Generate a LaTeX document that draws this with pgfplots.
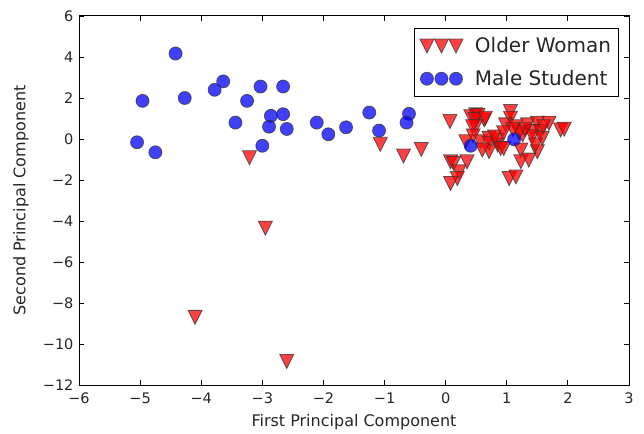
\documentclass[border=0pt]{standalone}
\usepackage{fontspec}
\setmainfont{DejaVu Sans}
\usepackage{pgfplots}
\pgfplotsset{compat=1.18}

% matplotlib style downward triangle (width = height = 2*mark size)
\pgfdeclareplotmark{tridown}{%
  \pgfpathmoveto{\pgfqpoint{0pt}{-\pgfplotmarksize}}%
  \pgfpathlineto{\pgfqpoint{\pgfplotmarksize}{\pgfplotmarksize}}%
  \pgfpathlineto{\pgfqpoint{-\pgfplotmarksize}{\pgfplotmarksize}}%
  \pgfpathclose
  \pgfusepathqfillstroke
}

\pgfplotstableread{
x y
-3.21 -0.91
-2.95 -4.35
-4.10 -8.70
-2.60 -10.85
-1.07 -0.26
-0.69 -0.83
-0.40 -0.51
0.07 0.85
0.41 1.09
0.49 1.18
0.53 1.15
0.63 0.93
0.48 0.95
0.65 1.01
0.49 0.60
0.44 0.60
0.33 -0.13
0.45 0.15
0.57 -0.13
0.71 0.03
0.71 -0.21
0.71 -0.62
0.60 -0.54
0.85 -0.29
0.85 -0.05
0.90 -0.46
0.80 0.10
0.35 -1.11
0.08 -1.11
0.13 -1.19
0.22 -1.60
0.19 -1.93
0.08 -2.17
1.04 -1.93
1.15 -1.85
1.06 1.34
1.06 1.01
0.98 0.69
1.15 0.60
1.34 0.69
1.50 0.77
1.69 0.77
1.42 0.36
1.55 0.36
1.26 0.20
1.42 0.11
1.58 0.03
0.95 -0.46
1.23 -0.54
1.50 -0.62
1.47 -0.29
1.23 -1.11
1.36 -1.03
1.88 0.44
1.94 0.48
1.60 0.60
1.30 0.45
1.20 0.30
1.10 0.45
0.95 0.30
}\older

\pgfplotstableread{
x y
-4.42 4.17
-4.96 1.86
-4.27 2.00
-5.05 -0.16
-4.75 -0.65
-3.78 2.40
-3.64 2.81
-3.25 1.86
-3.44 0.80
-3.03 2.56
-2.66 2.56
-2.86 1.13
-2.89 0.60
-2.66 1.21
-2.60 0.49
-3.00 -0.33
-2.11 0.80
-1.92 0.23
-1.63 0.57
-1.25 1.29
-1.09 0.41
-0.60 1.23
-0.64 0.80
0.41 -0.33
1.12 -0.02
}\male

\begin{document}
\begin{tikzpicture}
\begin{axis}[
  name=ax,
  scale only axis, width=550pt, height=369pt,
  xmin=-6, xmax=3, ymin=-12, ymax=6,
  xtick={-6,-5,...,3},
  xticklabels={−6,−5,−4,−3,−2,−1,0,1,2,3},
  ytick={-12,-10,...,6},
  yticklabels={−12,−10,−8,−6,−4,−2,0,2,4,6},
  tick align=inside, major tick length=5pt,
  tick style={black, line width=0.8pt},
  axis line style={line width=1pt},
  ticklabel style={font=\fontsize{14.5}{17}\selectfont, text=black!85},
  xticklabel style={yshift=-4pt},
  yticklabel style={xshift=-2pt},
  xlabel={First Principal Component},
  ylabel={Second Principal Component},
  label style={font=\fontsize{16}{19}\selectfont, text=black!85},
  xlabel style={at={([yshift=-41.5pt]axis description cs:0.5,0)}, anchor=base},
  ylabel style={at={([xshift=-53.5pt]axis description cs:0,0.5)}, anchor=base, rotate=0},
  legend cell align=left,
  legend style={at={(0.982,0.967)}, anchor=north east,
    font=\fontsize{20}{23}\selectfont, draw=black, line width=1pt,
    inner xsep=5.5pt, inner ysep=7pt, row sep=12pt,
    /tikz/every odd column/.append style={column sep=10pt},
    nodes={inner sep=2pt, text=black!85}},
  legend image code/.code={%
    \draw[mark repeat=1, mark phase=1, only marks] plot coordinates {(0pt,0pt) (14.5pt,0pt) (29pt,0pt)};},
]
\addplot[only marks, mark=tridown, mark size=7pt,
  mark options={fill=red, draw=black!80, line width=0.8pt, fill opacity=0.75, draw opacity=0.75}]
  table[x=x, y=y] {\older};
\addlegendentry{Older Woman}
\addplot[only marks, mark=*, mark size=6.5pt,
  mark options={fill=blue, draw=black!80, line width=0.8pt, fill opacity=0.75, draw opacity=0.75}]
  table[x=x, y=y] {\male};
\addlegendentry{Male Student}
\end{axis}
\path ([xshift=-79pt,yshift=-46pt]ax.south west) rectangle ([xshift=15pt,yshift=16pt]ax.north east);
\end{tikzpicture}
\end{document}
